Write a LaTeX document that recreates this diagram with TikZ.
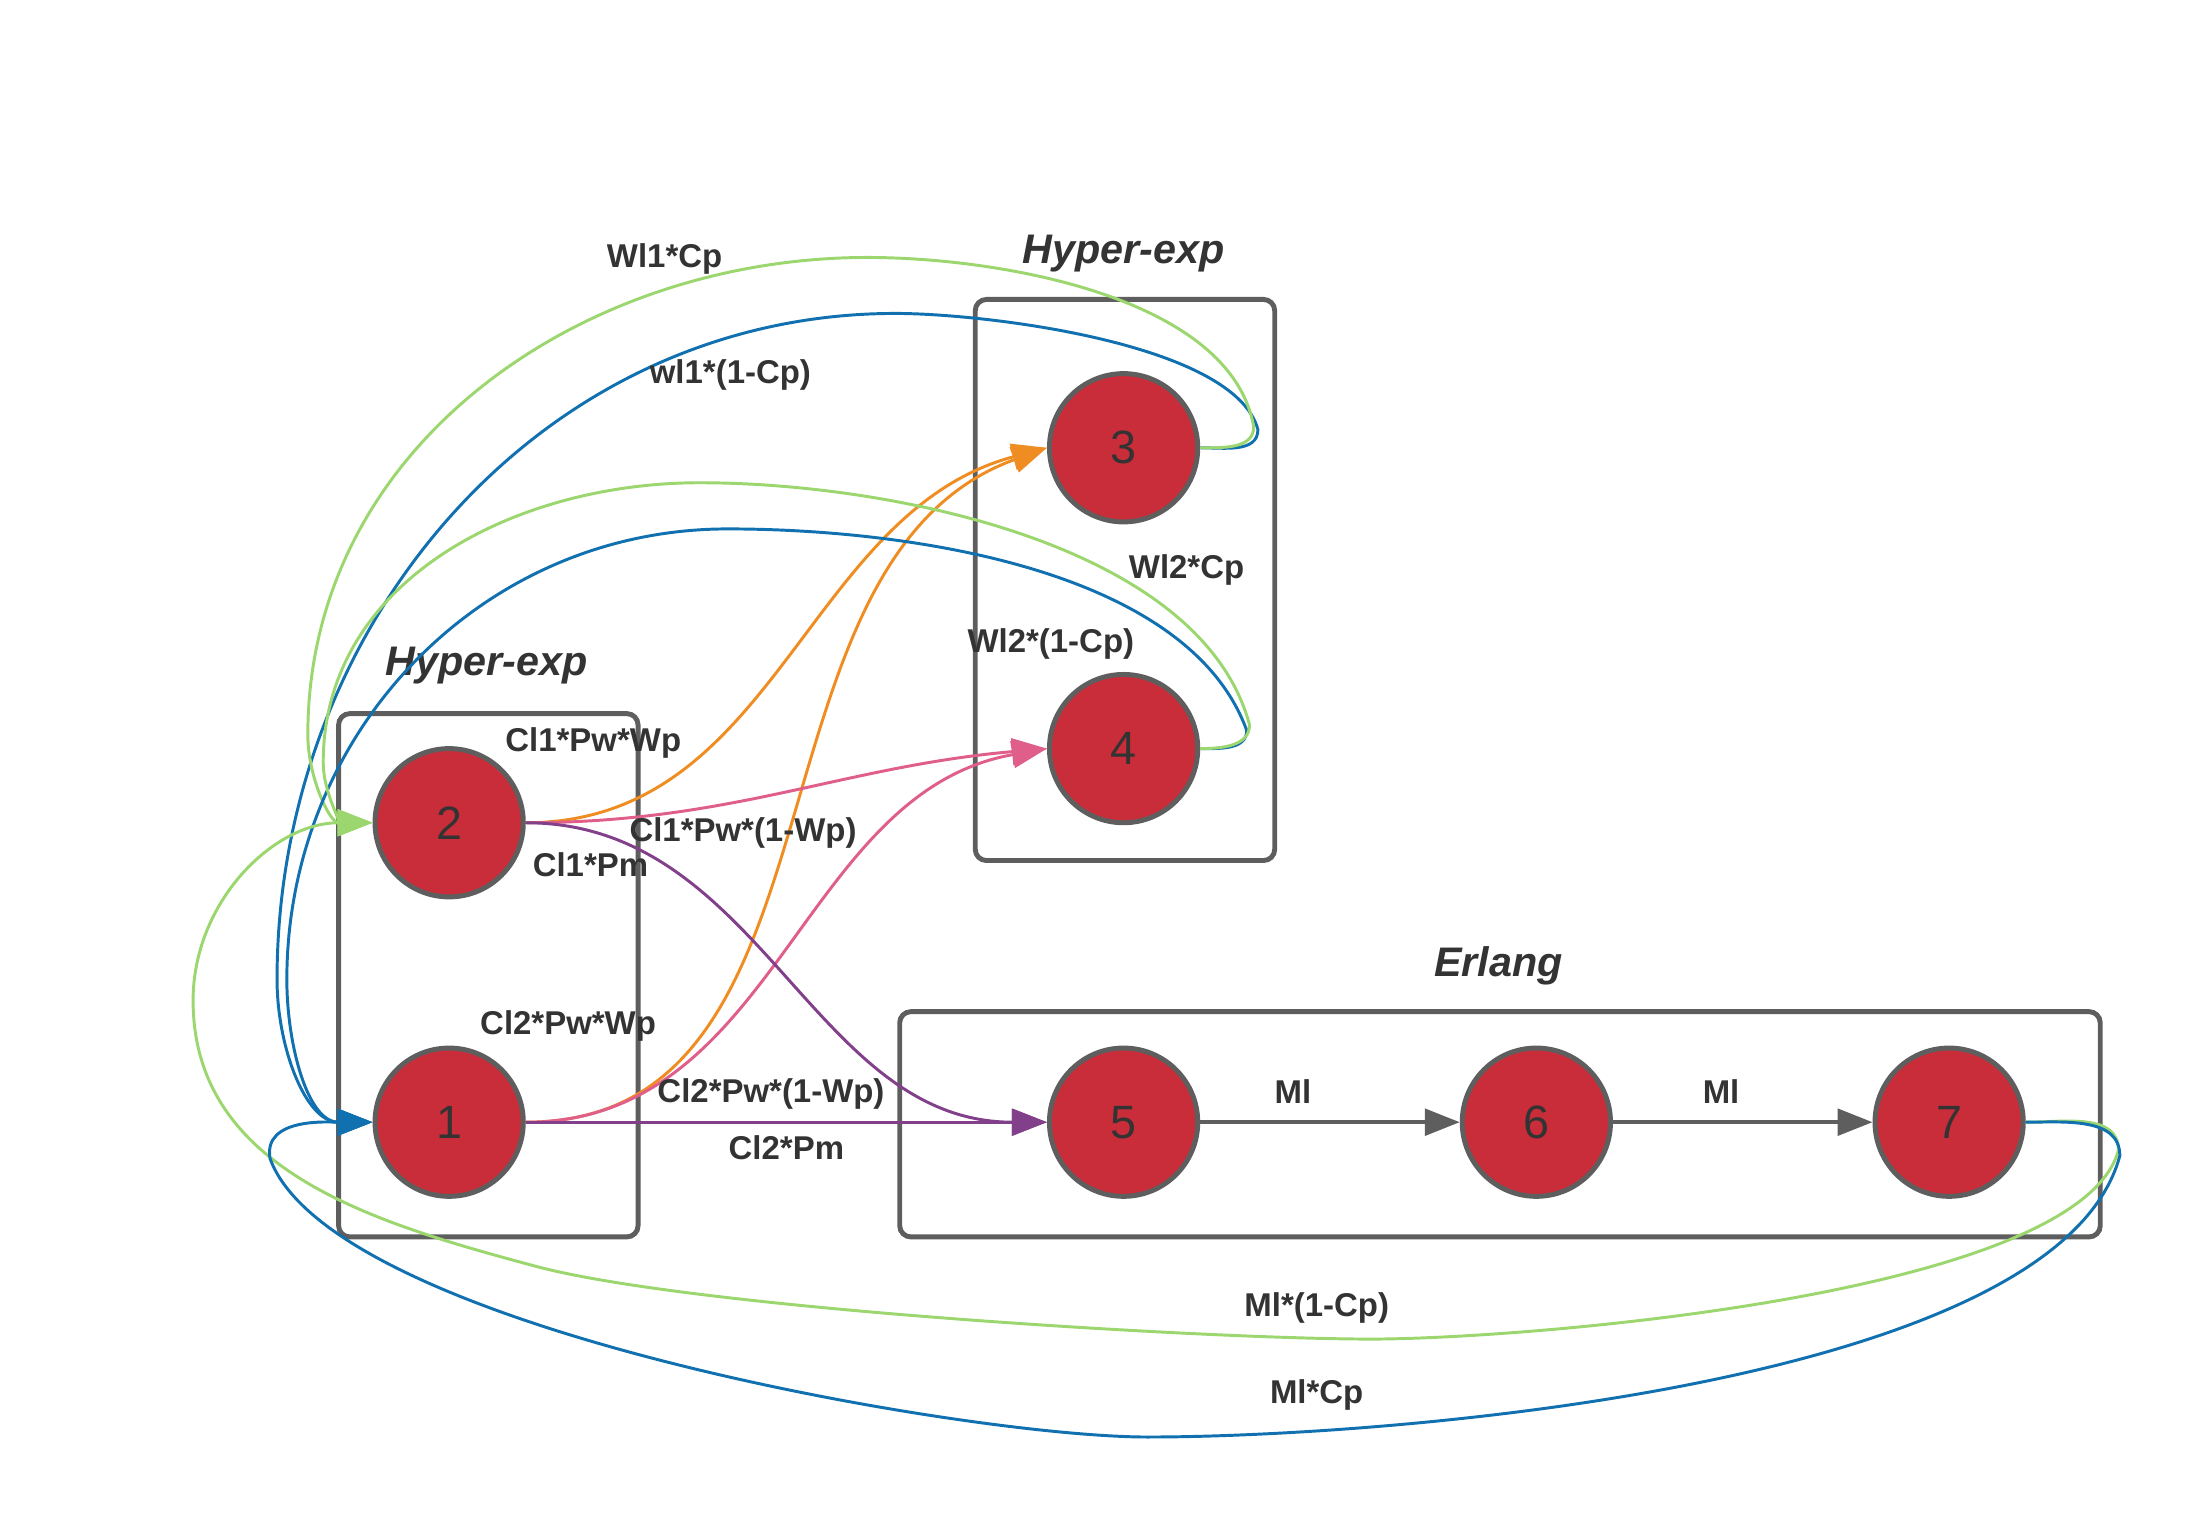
\documentclass[tikz,border=0pt]{standalone}
\usepackage{fontspec}
\setmainfont{Liberation Sans}
\usepackage{tikz}
\usetikzlibrary{arrows.meta}
\usepackage{xcolor}

\definecolor{stred}{HTML}{C92D39}
\definecolor{stgray}{HTML}{5E5E5E}
\definecolor{txtgray}{HTML}{333333}
\definecolor{lgreen}{HTML}{9CD66F}
\definecolor{dblue}{HTML}{1170B0}
\definecolor{orng}{HTML}{EF8D22}
\definecolor{pnk}{HTML}{DF5F8A}
\definecolor{purp}{HTML}{823F8A}

\begin{document}
\begin{tikzpicture} [x=0.1mm, y=0.1mm,
    state/.style={circle, draw=stgray, line width=1pt, fill=stred, minimum size=10.6mm,
      inner sep=0pt, text=txtgray, font=\fontsize{9.5}{11}\selectfont},
    group/.style={draw=stgray, line width=1pt, rounded corners=0.8mm},
    title/.style={text=txtgray, font=\fontsize{8.4}{10}\selectfont\bfseries\itshape},
    lbl/.style={text=txtgray, inner sep=1pt, font=\fontsize{6.7}{8}\selectfont\bfseries},
    tr/.style={line width=0.6pt, -{Triangle[length=2.5mm,width=1.9mm]}}
  ]
  \useasboundingbox (0,0) rectangle (1568,-1081);
  % groups
  \draw[group] (242,-510) rectangle (456,-884);
  \draw[group] (697,-214) rectangle (911,-615);
  \draw[group] (643,-723) rectangle (1501,-884);
  \node[title] (hx1) at (348,-476) {Hyper-exp};
  \node[title] (hx2) at (803,-181) {Hyper-exp};
  \node[title] (erl) at (1071,-690) {Erlang};
  % states
  \node[state] (n1) at (321,-802) {1};
  \node[state] (n2) at (321,-588) {2};
  \node[state] (n3) at (803,-320) {3};
  \node[state] (n4) at (803,-535) {4};
  \node[state] (n5) at (803,-802) {5};
  \node[state] (n6) at (1098,-802) {6};
  \node[state] (n7) at (1393,-802) {7};
  % entry
  \path[tr,orng]
  (n2.east) edge[out=0,in=195] (n3.west)
  (n1.east) edge[out=0,in=200] (n3.west)
  ;
  \path[tr,pnk]
  (n2.east) edge[out=0,in=185] (n4.west)
  (n1.east) edge[out=0,in=190] (n4.west)
  ;
  \path[tr,purp]
  (n2.east) edge[out=0,in=180] (n5.west)
  (n1.east) edge (n5.west)
  ;
  \path[tr,stgray,line width=0.8pt]
  (n5) edge (n6)
  (n6) edge (n7)
  ;
  % back loops
  \draw[tr,dblue] (n3.east) to[out=0,in=-90] (899,-307)
    to[out=105,in=0,looseness=0.6] (640,-224)
    to[out=180,in=90] (198,-700) to[out=-90,in=180] (n1.west);
  \draw[tr,lgreen] (n3.east) to[out=0,in=-90] (896,-305)
    to[out=100,in=0,looseness=0.8] (620,-184)
    to[out=180,in=90] (220,-525) to[out=-90,in=180] (n2.west);
  \draw[tr,dblue] (n4.east) to[out=0,in=-90] (891,-522)
    to[out=110,in=0,looseness=0.8] (520,-378)
    to[out=180,in=90] (205,-700) to[out=-90,in=180] (n1.west);
  \draw[tr,lgreen] (n4.east) to[out=0,in=-90] (893,-518)
    to[out=105,in=0,looseness=0.8] (500,-345)
    to[out=180,in=90] (231,-545) to[out=-90,in=180] (n2.west);
  \draw[tr,lgreen] (n7.east) to[out=0,in=90] (1514,-822)
    to[out=-105,in=0,looseness=0.5] (980,-957)
    to[out=180,in=-15,looseness=0.5] (383,-905)
    to[out=165,in=-90] (138,-715) to[out=90,in=180] (n2.west);
  \draw[tr,dblue] (n7.east) to[out=0,in=90] (1515,-826)
    to[out=-105,in=0,looseness=0.6] (820,-1027)
    to[out=180,in=-70,looseness=0.5] (193,-828)
    to[out=100,in=180] (n1.west);
  % rates
  \node[lbl] (r31a) at (475,-185) {Wl1*Cp};
  \node[lbl] (r31b) at (522,-268) {wl1*(1-Cp)};
  \node[lbl] (r42a) at (848,-407) {Wl2*Cp};
  \node[lbl] (r42b) at (751,-460) {Wl2*(1-Cp)};
  \node[lbl] (r23) at (424,-531) {Cl1*Pw*Wp};
  \node[lbl] (r24) at (531,-595) {Cl1*Pw*(1-Wp)};
  \node[lbl] (r25) at (422,-618) {Cl1*Pm};
  \node[lbl] (r13) at (406,-733) {Cl2*Pw*Wp};
  \node[lbl] (r14) at (551,-782) {Cl2*Pw*(1-Wp)};
  \node[lbl] (r15) at (562,-820) {Cl2*Pm};
  \node[lbl] (r56) at (924,-780) {Ml};
  \node[lbl] (r67) at (1230,-780) {Ml};
  \node[lbl] (r72) at (941,-935) {Ml*(1-Cp)};
  \node[lbl] (r71) at (941,-997) {Ml*Cp};
\end{tikzpicture}
\end{document}
